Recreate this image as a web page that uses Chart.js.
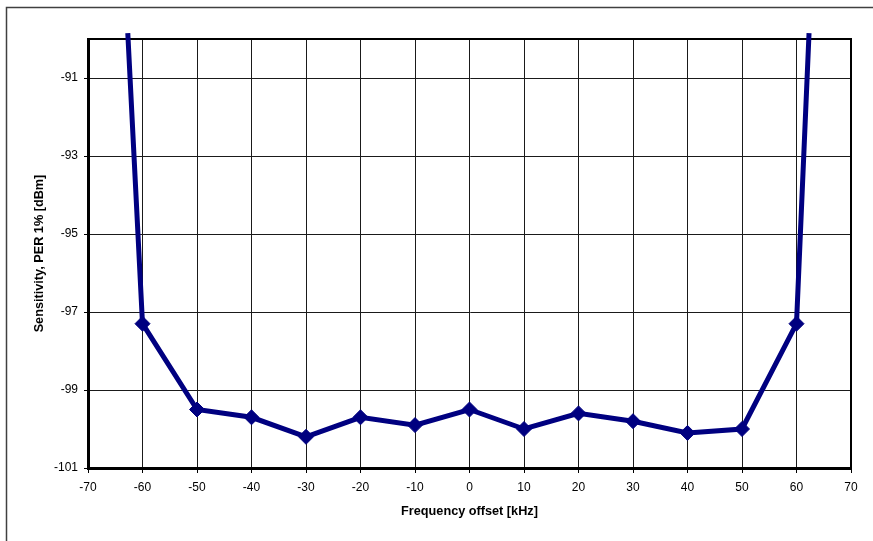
<!DOCTYPE html>
<html>
<head>
<meta charset="utf-8">
<script src="https://cdn.jsdelivr.net/npm/chart.js@4"></script>
<style>
  html, body { margin: 0; padding: 0; background: #fff; }
  #wrap { width: 873px; height: 541px; }
</style>
</head>
<body>
<div id="wrap"><canvas id="chart" width="873" height="541"></canvas></div>
<script>
// frequency offset [kHz]; first and last points are where the curve leaves the top of the plot
const offsets = [-62.7, -60, -50, -40, -30, -20, -10, 0, 10, 20, 30, 40, 50, 60, 62.3];
const sensitivity = [-89.85, -97.3, -99.5, -99.7, -100.2, -99.7, -99.9, -99.5, -100.0, -99.6, -99.8, -100.1, -100.0, -97.3, -89.85];
const xTickValues = [-70, -60, -50, -40, -30, -20, -10, 0, 10, 20, 30, 40, 50, 60, 70];
const yTickValues = [-101, -99, -97, -95, -93, -91];

const navy = "#000080";
const lastIdx = offsets.length - 1;
const fontFamily = "'Liberation Sans', Arial, sans-serif";

const frame = {
  id: "frame",
  beforeDraw(chart) {
    const c = chart.ctx;
    c.save();
    c.strokeStyle = "#404040";
    c.lineWidth = 1.5;
    c.beginPath();
    c.moveTo(6.5, 560);
    c.lineTo(6.5, 7.5);
    c.lineTo(900, 7.5);
    c.stroke();
    c.restore();
  },
  beforeDatasetsDraw(chart) {
    const a = chart.chartArea;
    const c = chart.ctx;
    c.save();
    c.strokeStyle = "#000";
    c.lineWidth = 2;
    c.strokeRect(a.left, a.top, a.right - a.left, a.bottom - a.top);
    c.restore();
  },
};

const ctx = document.getElementById("chart");

new Chart(ctx, {
  type: "line",
  data: {
    datasets: [
      {
        data: offsets.map((x, i) => ({ x: x, y: sensitivity[i] })),
        borderColor: navy,
        backgroundColor: navy,
        borderWidth: 5,
        pointStyle: "rectRot",
        pointRadius: (c) => (c.dataIndex === 0 || c.dataIndex === lastIdx ? 0 : 7.5),
        pointBorderWidth: 1,
        pointBorderColor: navy,
        pointBackgroundColor: navy,
        tension: 0,
        clip: false,
      },
    ],
  },
  options: {
    responsive: false,
    animation: false,
    events: [],
    layout: { padding: { top: 39, right: 22, left: 0, bottom: 0 } },
    plugins: {
      legend: { display: false },
      tooltip: { enabled: false },
    },
    scales: {
      x: {
        type: "linear",
        min: -70,
        max: 70,
        afterBuildTicks: (s) => { s.ticks = xTickValues.map((v) => ({ value: v })); },
        afterFit: (s) => { s.height = 73; },
        ticks: {
          color: "#000",
          font: { family: fontFamily, size: 12 },
          padding: 7,
          maxRotation: 0,
          autoSkip: false,
        },
        grid: { color: "#1a1a1a", lineWidth: 1, tickLength: 5, tickColor: "#000" },
        border: { color: "#000", width: 3 },
        title: {
          display: true,
          text: "Frequency offset [kHz]",
          color: "#000",
          font: { family: fontFamily, size: 12.7, weight: "bold" },
          padding: { top: 0, bottom: 22 },
        },
      },
      y: {
        type: "linear",
        min: -101,
        max: -90,
        afterBuildTicks: (s) => { s.ticks = yTickValues.map((v) => ({ value: v })); },
        afterFit: (s) => { s.width = 88; },
        ticks: {
          color: "#000",
          font: { family: fontFamily, size: 12 },
          padding: 6,
          autoSkip: false,
        },
        grid: { color: "#1a1a1a", lineWidth: 1, tickLength: 4, tickColor: "#000" },
        border: { color: "#000", width: 3 },
        title: {
          display: true,
          text: "Sensitivity, PER 1% [dBm]",
          color: "#000",
          font: { family: fontFamily, size: 12.7, weight: "bold" },
          padding: { top: 32, bottom: 0 },
        },
      },
    },
  },
  plugins: [frame],
});
</script>
</body>
</html>
